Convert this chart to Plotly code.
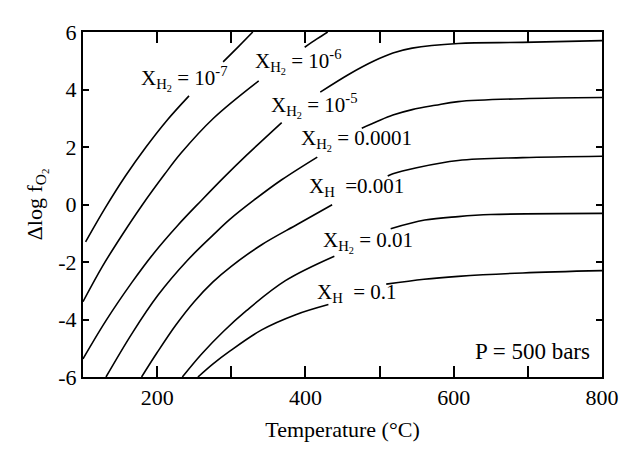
import plotly.graph_objects as go

# ---- data (Temperature °C, Δlog fO2) ----
# each curve is split where its in-plot label sits
t_e7_a = [103.5, 130, 157, 185, 214, 243]
y_e7_a = [-1.30, -0.12, 0.98, 2.00, 2.95, 3.78]
t_e7_b = [289, 310, 329]
y_e7_b = [4.96, 5.50, 6.00]

t_e6_a = [100, 126, 153, 179, 210, 232, 276, 337]
y_e6_a = [-3.38, -2.16, -1.05, -0.05, 1.05, 1.78, 3.00, 4.30]
t_e6_b = [399, 415, 430]
y_e6_b = [5.47, 5.75, 6.00]

t_e5_a = [100, 131, 166, 195, 228, 260, 291, 320, 368]
y_e5_a = [-5.37, -4.04, -2.71, -1.71, -0.72, 0.15, 0.97, 1.70, 2.85]
t_e5_b = [420, 460, 493, 518, 544, 606, 693, 800]
y_e5_b = [3.91, 4.55, 5.00, 5.27, 5.44, 5.60, 5.64, 5.70]

t_e4_a = [131, 166, 201, 241, 276, 298, 330, 368, 416]
y_e4_a = [-6.00, -4.49, -3.16, -1.94, -1.05, -0.52, 0.14, 0.86, 1.65]
t_e4_b = [476, 518, 544, 575, 606, 693, 800]
y_e4_b = [2.65, 3.11, 3.30, 3.45, 3.58, 3.68, 3.72]

t_e3_a = [179, 200, 225, 250, 275, 300, 341, 390, 436]
y_e3_a = [-6.00, -5.15, -4.20, -3.38, -2.70, -2.15, -1.40, -0.68, -0.01]
t_e3_b = [511, 518, 550, 606, 693, 800]
y_e3_b = [0.99, 1.07, 1.28, 1.53, 1.63, 1.68]

t_e2_a = [234, 260, 290, 320, 373, 439]
y_e2_a = [-6.00, -5.20, -4.40, -3.70, -2.65, -1.80]
t_e2_b = [515, 561, 606, 650, 800]
y_e2_b = [-0.84, -0.54, -0.42, -0.35, -0.31]

t_e1_a = [255, 275, 298, 341, 386, 431]
y_e1_a = [-6.00, -5.55, -5.10, -4.36, -3.84, -3.48]
t_e1_b = [509, 560, 606, 693, 800]
y_e1_b = [-2.77, -2.60, -2.50, -2.38, -2.30]

label_text = [
    "X<sub>H<sub>2</sub></sub> = 10<sup>-7</sup>",
    "X<sub>H<sub>2</sub></sub> = 10<sup>-6</sup>",
    "X<sub>H<sub>2</sub></sub> = 10<sup>-5</sup>",
    "X<sub>H<sub>2</sub></sub> = 0.0001",
    "X<sub>H</sub>  =0.001",
    "X<sub>H<sub>2</sub></sub> = 0.01",
    "X<sub>H</sub>  = 0.1",
]
label_t = [237, 390, 412, 469, 469, 485, 469]
label_y = [4.38, 4.97, 3.44, 2.25, 0.62, -1.31, -3.07]

x_tickvals = [200, 300, 400, 500, 600, 700, 800]
x_ticktext = ["200", "", "400", "", "600", "", "800"]
y_tickvals = [-6, -4, -2, 0, 2, 4, 6]
y_ticktext = ["-6", "-4", "-2", "0", "2", "4", "6"]

FONT = "Liberation Serif, Times New Roman, serif"

segments = [
    (t_e7_a, y_e7_a), (t_e7_b, y_e7_b),
    (t_e6_a, y_e6_a), (t_e6_b, y_e6_b),
    (t_e5_a, y_e5_a), (t_e5_b, y_e5_b),
    (t_e4_a, y_e4_a), (t_e4_b, y_e4_b),
    (t_e3_a, y_e3_a), (t_e3_b, y_e3_b),
    (t_e2_a, y_e2_a), (t_e2_b, y_e2_b),
    (t_e1_a, y_e1_a), (t_e1_b, y_e1_b),
]

fig = go.Figure()
for tx, ty in segments:
    fig.add_trace(go.Scatter(
        x=tx, y=ty, mode="lines",
        line=dict(color="black", width=1.6, shape="spline", smoothing=1.0),
        showlegend=False, hoverinfo="skip"))

for txt, lt, ly in zip(label_text, label_t, label_y):
    fig.add_annotation(x=lt, y=ly, text=txt, showarrow=False,
                       font=dict(family=FONT, size=21, color="black"))

fig.add_annotation(x=787, y=-5.1, text="P = 500 bars", showarrow=False,
                   xanchor="right", font=dict(family=FONT, size=23, color="black"))

# page body has an 8px default margin: figure is sized so the plot lands
# where the reference's does inside the 631x450 window
fig.update_layout(
    width=623, height=442,
    margin=dict(l=75, r=17, t=12, b=67),
    paper_bgcolor="white", plot_bgcolor="white",
    font=dict(family=FONT, size=22, color="black"),
    showlegend=False,
)
fig.update_xaxes(
    range=[100, 800], tickvals=x_tickvals, ticktext=x_ticktext,
    ticks="inside", ticklen=11, tickwidth=2, tickcolor="black",
    showline=True, linewidth=2, linecolor="black", mirror="ticks",
    showgrid=False, zeroline=False,
    title=dict(text="Temperature (°C)", standoff=12,
               font=dict(family=FONT, size=22)),
    tickfont=dict(family=FONT, size=22),
)
fig.update_yaxes(
    range=[-6, 6], tickvals=y_tickvals, ticktext=y_ticktext,
    ticks="inside", ticklen=6, tickwidth=2, tickcolor="black",
    showline=True, linewidth=2, linecolor="black", mirror="ticks",
    showgrid=False, zeroline=False,
    title=dict(text="Δlog f<sub>O<sub>2</sub></sub>", standoff=10,
               font=dict(family=FONT, size=22)),
    tickfont=dict(family=FONT, size=22),
)

fig.write_html("out.html")
